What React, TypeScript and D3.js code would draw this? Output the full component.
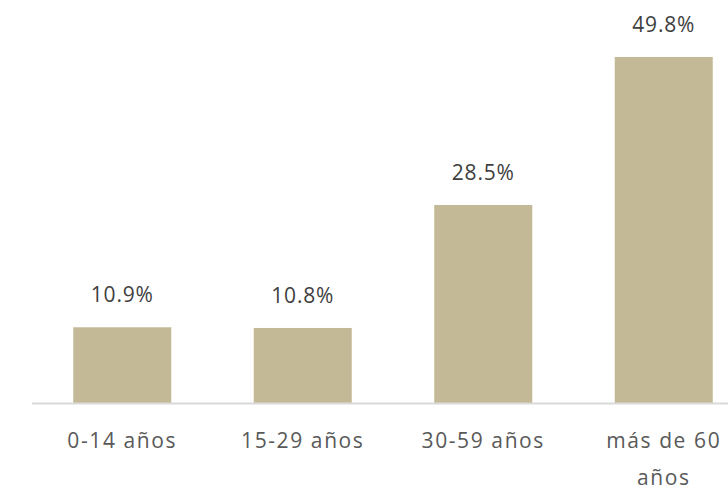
import { useEffect, useRef } from 'react';
import * as d3 from 'd3';

const categories = ['0-14 años', '15-29 años', '30-59 años', 'más de 60 años'];
const values = [10.9, 10.8, 28.5, 49.8];

export default function App() {
  const svgRef = useRef<SVGSVGElement>(null);

  useEffect(() => {
    document.body.style.margin = '0';
    if (!svgRef.current) return;
    const width = 728;
    const baseline = 403;

    const svg = d3.select(svgRef.current);
    svg.selectAll('*').remove();

    const x = d3.scaleBand<string>()
      .domain(categories)
      .range([32, 754])
      .paddingInner(0.457)
      .paddingOuter(0.2285);

    const y = d3.scaleLinear().domain([0, 49.8]).range([baseline, 57]);

    const font = '"Open Sans", "DejaVu Sans", sans-serif';

    svg.append('g')
      .selectAll('rect')
      .data(values)
      .join('rect')
      .attr('x', (_, i) => x(categories[i])!)
      .attr('y', d => y(d))
      .attr('width', x.bandwidth())
      .attr('height', d => baseline - y(d))
      .attr('fill', '#c4b996');

    svg.append('line')
      .attr('x1', 32)
      .attr('x2', width)
      .attr('y1', baseline + 0.5)
      .attr('y2', baseline + 0.5)
      .attr('stroke', '#d9d9d9')
      .attr('stroke-width', 2);

    svg.append('g')
      .selectAll('text')
      .data(values)
      .join('text')
      .attr('x', (_, i) => x(categories[i])! + x.bandwidth() / 2)
      .attr('y', d => y(d) - 25)
      .attr('text-anchor', 'middle')
      .attr('font-family', font)
      .attr('font-size', 21)
      .attr('letter-spacing', 0.8)
      .attr('fill', '#404040')
      .text(d => d.toFixed(1) + '%');

    const labels = svg.append('g');
    categories.forEach(c => {
      const cx = x(c)! + x.bandwidth() / 2;
      const lines = c === 'más de 60 años' ? ['más de 60', 'años'] : [c];
      lines.forEach((ln, j) => {
        labels.append('text')
          .attr('x', cx)
          .attr('y', 448 + j * 37)
          .attr('text-anchor', 'middle')
          .attr('font-family', font)
          .attr('font-size', 21)
          .attr('letter-spacing', 1.6)
          .attr('fill', '#595959')
          .text(ln);
      });
    });
  }, []);

  return <svg ref={svgRef} width={728} height={490} style={{ display: 'block' }} />;
}
